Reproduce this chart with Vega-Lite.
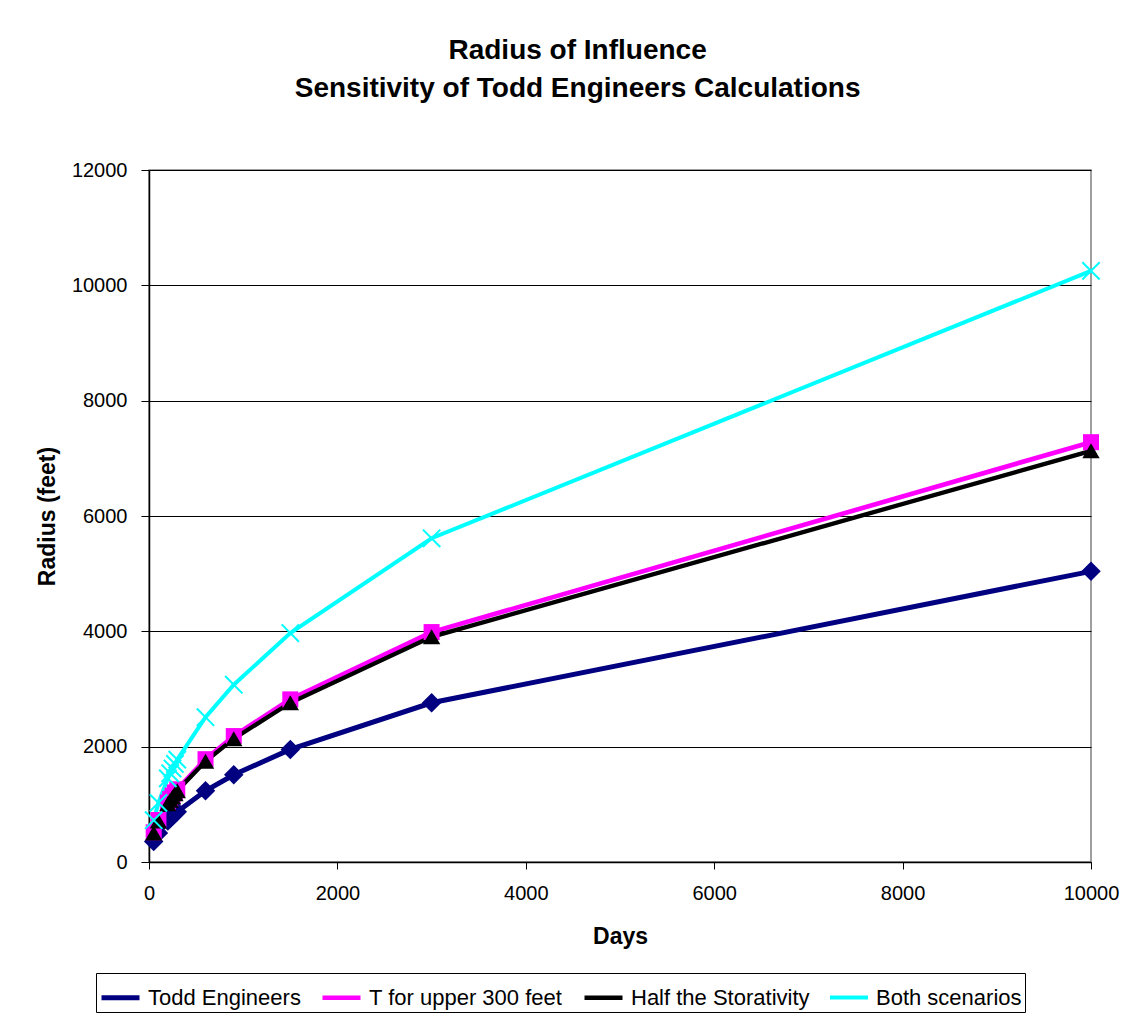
{
  "$schema": "https://vega.github.io/schema/vega-lite/v6.json",
  "width": 942,
  "height": 692,
  "autosize": {"type": "none"},
  "padding": {"left": 149, "top": 170, "right": 42, "bottom": 156},
  "background": "white",
  "config": {
    "font": "Liberation Sans",
    "view": {"stroke": "#808080", "strokeWidth": 1.5},
    "axis": {
      "labelFont": "Liberation Sans",
      "titleFont": "Liberation Sans",
      "labelColor": "black",
      "titleColor": "black",
      "domainColor": "black",
      "tickColor": "black",
      "labelFontSize": 20,
      "titleFontSize": 23,
      "titleFontWeight": "bold"
    }
  },
  "title": {
    "text": ["Radius of Influence", "Sensitivity of Todd Engineers Calculations"],
    "fontSize": 28,
    "fontWeight": "bold",
    "font": "Liberation Sans",
    "color": "black",
    "lineHeight": 38,
    "anchor": "middle",
    "frame": "bounds",
    "offset": 57
  },
  "data": {
    "values": [
      {"series": "Todd Engineers", "days": 50, "radius": 356},
      {"series": "Todd Engineers", "days": 100, "radius": 504},
      {"series": "Todd Engineers", "days": 200, "radius": 713},
      {"series": "Todd Engineers", "days": 225, "radius": 756},
      {"series": "Todd Engineers", "days": 250, "radius": 797},
      {"series": "Todd Engineers", "days": 275, "radius": 836},
      {"series": "Todd Engineers", "days": 300, "radius": 873},
      {"series": "Todd Engineers", "days": 600, "radius": 1235},
      {"series": "Todd Engineers", "days": 900, "radius": 1512},
      {"series": "Todd Engineers", "days": 1500, "radius": 1952},
      {"series": "Todd Engineers", "days": 3000, "radius": 2761},
      {"series": "Todd Engineers", "days": 10000, "radius": 5040},
      {"series": "T for upper 300 feet", "days": 50, "radius": 515},
      {"series": "T for upper 300 feet", "days": 100, "radius": 728},
      {"series": "T for upper 300 feet", "days": 200, "radius": 1030},
      {"series": "T for upper 300 feet", "days": 225, "radius": 1092},
      {"series": "T for upper 300 feet", "days": 250, "radius": 1151},
      {"series": "T for upper 300 feet", "days": 275, "radius": 1207},
      {"series": "T for upper 300 feet", "days": 300, "radius": 1261},
      {"series": "T for upper 300 feet", "days": 600, "radius": 1783},
      {"series": "T for upper 300 feet", "days": 900, "radius": 2184},
      {"series": "T for upper 300 feet", "days": 1500, "radius": 2820},
      {"series": "T for upper 300 feet", "days": 3000, "radius": 3987},
      {"series": "T for upper 300 feet", "days": 10000, "radius": 7280},
      {"series": "Half the Storativity", "days": 50, "radius": 504},
      {"series": "Half the Storativity", "days": 100, "radius": 713},
      {"series": "Half the Storativity", "days": 200, "radius": 1008},
      {"series": "Half the Storativity", "days": 225, "radius": 1070},
      {"series": "Half the Storativity", "days": 250, "radius": 1127},
      {"series": "Half the Storativity", "days": 275, "radius": 1182},
      {"series": "Half the Storativity", "days": 300, "radius": 1235},
      {"series": "Half the Storativity", "days": 600, "radius": 1746},
      {"series": "Half the Storativity", "days": 900, "radius": 2139},
      {"series": "Half the Storativity", "days": 1500, "radius": 2761},
      {"series": "Half the Storativity", "days": 3000, "radius": 3905},
      {"series": "Half the Storativity", "days": 10000, "radius": 7130},
      {"series": "Both scenarios", "days": 50, "radius": 725},
      {"series": "Both scenarios", "days": 100, "radius": 1025},
      {"series": "Both scenarios", "days": 200, "radius": 1450},
      {"series": "Both scenarios", "days": 225, "radius": 1538},
      {"series": "Both scenarios", "days": 250, "radius": 1621},
      {"series": "Both scenarios", "days": 275, "radius": 1700},
      {"series": "Both scenarios", "days": 300, "radius": 1775},
      {"series": "Both scenarios", "days": 600, "radius": 2511},
      {"series": "Both scenarios", "days": 900, "radius": 3075},
      {"series": "Both scenarios", "days": 1500, "radius": 3970},
      {"series": "Both scenarios", "days": 3000, "radius": 5614},
      {"series": "Both scenarios", "days": 10000, "radius": 10250}
    ]
  },
  "encoding": {
    "x": {
      "field": "days", "type": "quantitative",
      "scale": {"domain": [0, 10000], "nice": false},
      "axis": {
        "title": "Days", "values": [0, 2000, 4000, 6000, 8000, 10000], "format": "d",
        "grid": false, "tickSize": 7, "labelPadding": 14, "titlePadding": 22,
        "domainWidth": 1.5, "labelFlush": false
      }
    },
    "y": {
      "field": "radius", "type": "quantitative",
      "scale": {"domain": [0, 12000], "nice": false},
      "axis": {
        "title": "Radius (feet)", "values": [0, 2000, 4000, 6000, 8000, 10000, 12000], "format": "d",
        "grid": true, "gridColor": "black", "gridOpacity": 1, "gridWidth": 1,
        "tickSize": 8, "labelPadding": 14, "titlePadding": 12,
        "domainWidth": 1.5
      }
    }
  },
  "layer": [
    {
      "mark": {"type": "line"},
      "encoding": {
        "stroke": {
          "field": "series", "type": "nominal",
          "scale": {"domain": ["Todd Engineers", "T for upper 300 feet", "Half the Storativity", "Both scenarios"], "range": ["#000080", "#FF00FF", "#000000", "#00FFFF"]},
          "legend": {
            "orient": "none", "legendX": -53, "legendY": 803,
            "direction": "horizontal", "title": null,
            "symbolStrokeWidth": 4, "symbolSize": 1444,
            "labelFontSize": 22, "labelColor": "black",
            "labelOffset": 6, "columnPadding": 12,
            "padding": 3, "strokeColor": "black", "labelLimit": 400
          }
        },
        "strokeWidth": {
          "field": "series", "type": "nominal",
          "scale": {"domain": ["Todd Engineers", "T for upper 300 feet", "Half the Storativity", "Both scenarios"], "range": [5, 4, 2.5, 3.5]},
          "legend": null
        }
      }
    },
    {
      "transform": [{"filter": "datum.series === 'Todd Engineers'"}],
      "mark": {"type": "point", "shape": "diamond", "filled": true, "color": "#000080", "opacity": 1, "size": 380}
    },
    {
      "transform": [{"filter": "datum.series === 'T for upper 300 feet'"}],
      "mark": {"type": "point", "shape": "square", "filled": true, "color": "#FF00FF", "opacity": 1, "size": 256}
    },
    {
      "transform": [{"filter": "datum.series === 'Half the Storativity'"}],
      "mark": {"type": "point", "shape": "triangle-up", "filled": true, "color": "#000000", "opacity": 1, "size": 300}
    },
    {
      "transform": [{"filter": "datum.series === 'Both scenarios'"}],
      "mark": {"type": "point", "shape": "M-1,-1L1,1M1,-1L-1,1", "filled": false, "color": "#00FFFF", "opacity": 1, "size": 300, "strokeWidth": 2}
    }
  ]
}
